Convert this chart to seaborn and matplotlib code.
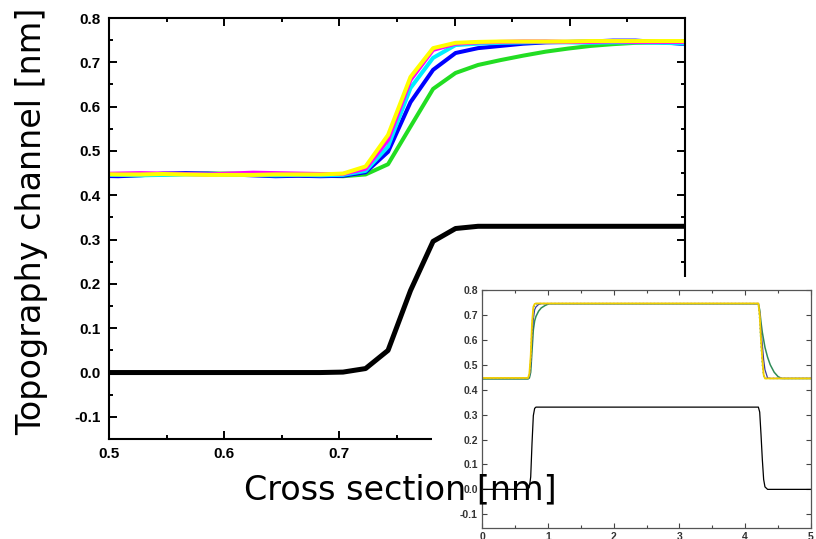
import numpy as np
import seaborn as sns
import matplotlib.pyplot as plt
from matplotlib.patches import Rectangle
from matplotlib.ticker import MultipleLocator

## Main panel data (zoom on the left step edge)
x_main = [0.4883, 0.5078, 0.5273, 0.5469, 0.5664, 0.5859, 0.6055, 0.6250, 0.6445, 0.6641,
          0.6836, 0.7031, 0.7227, 0.7422, 0.7617, 0.7813, 0.8008, 0.8203, 0.8398, 0.8594,
          0.8789, 0.8984, 0.9180, 0.9375, 0.9570, 0.9766, 0.9961, 1.0156]
black_main = [0.0, 0.0, 0.0, 0.0, 0.0, 0.0, 0.0, 0.0, 0.0, 0.0, 0.0, 0.001,
              0.009, 0.05, 0.185, 0.296, 0.325, 0.33, 0.33, 0.33, 0.33, 0.33,
              0.33, 0.33, 0.33, 0.33, 0.33, 0.33]
green_main = [0.443, 0.444, 0.446, 0.447, 0.448, 0.449, 0.449, 0.448, 0.447, 0.445, 0.444, 0.443,
              0.447, 0.47, 0.555, 0.64, 0.676, 0.694, 0.705, 0.715, 0.724, 0.731,
              0.737, 0.741, 0.744, 0.745, 0.745, 0.745]
blue_main = [0.444, 0.443, 0.445, 0.449, 0.450, 0.449, 0.447, 0.445, 0.443, 0.444, 0.443, 0.444,
             0.452, 0.498, 0.61, 0.683, 0.721, 0.732, 0.737, 0.742, 0.745, 0.746,
             0.747, 0.749, 0.749, 0.746, 0.742, 0.741]
cyan_main = [0.446, 0.446, 0.445, 0.446, 0.447, 0.447, 0.446, 0.446, 0.445, 0.446, 0.445, 0.446,
             0.455, 0.51, 0.642, 0.71, 0.739, 0.742, 0.744, 0.745, 0.746, 0.745,
             0.744, 0.745, 0.745, 0.744, 0.743, 0.743]
magenta_main = [0.448, 0.449, 0.450, 0.449, 0.448, 0.447, 0.449, 0.451, 0.450, 0.449, 0.448, 0.448,
                0.46, 0.525, 0.66, 0.728, 0.742, 0.745, 0.746, 0.747, 0.747, 0.746,
                0.746, 0.747, 0.746, 0.746, 0.746, 0.746]
yellow_main = [0.448, 0.447, 0.447, 0.448, 0.447, 0.446, 0.446, 0.446, 0.447, 0.447, 0.447, 0.449,
               0.465, 0.536, 0.667, 0.732, 0.744, 0.746, 0.747, 0.747, 0.747, 0.747,
               0.748, 0.748, 0.748, 0.748, 0.748, 0.748]

## Inset data (full cross section)
x_inset = [0.0, 0.70, 0.72, 0.74, 0.76, 0.78, 0.80, 0.82, 0.86, 0.90, 0.96, 1.02,
           4.18, 4.20, 4.22, 4.24, 4.26, 4.28, 4.30, 4.34, 4.38, 4.44, 4.50, 4.56, 5.0]
black_inset = [0.0, 0.0, 0.009, 0.05, 0.185, 0.296, 0.325, 0.33, 0.33, 0.33, 0.33, 0.33,
               0.33, 0.33, 0.31, 0.22, 0.12, 0.04, 0.01, 0.0, 0.0, 0.0, 0.0, 0.0, 0.0]
green_inset = [0.443, 0.443, 0.447, 0.47, 0.555, 0.64, 0.676, 0.694, 0.715, 0.728, 0.738, 0.745,
               0.745, 0.745, 0.72, 0.67, 0.63, 0.60, 0.57, 0.53, 0.50, 0.47, 0.452, 0.445, 0.445]
blue_inset = [0.445, 0.445, 0.452, 0.498, 0.61, 0.683, 0.721, 0.732, 0.742, 0.745, 0.745, 0.745,
              0.745, 0.745, 0.71, 0.64, 0.58, 0.52, 0.48, 0.447, 0.445, 0.445, 0.445, 0.445, 0.445]
cyan_inset = [0.446, 0.446, 0.455, 0.51, 0.642, 0.71, 0.739, 0.742, 0.745, 0.745, 0.745, 0.745,
              0.745, 0.745, 0.68, 0.58, 0.50, 0.455, 0.445, 0.445, 0.445, 0.445, 0.445, 0.445, 0.445]
magenta_inset = [0.448, 0.448, 0.46, 0.525, 0.66, 0.728, 0.742, 0.745, 0.746, 0.746, 0.746, 0.746,
                 0.746, 0.746, 0.70, 0.60, 0.52, 0.46, 0.446, 0.446, 0.446, 0.446, 0.446, 0.446, 0.446]
yellow_inset = [0.447, 0.447, 0.465, 0.536, 0.667, 0.732, 0.744, 0.746, 0.746, 0.746, 0.746, 0.746,
                0.746, 0.746, 0.70, 0.60, 0.52, 0.46, 0.445, 0.445, 0.445, 0.445, 0.445, 0.445, 0.445]

sns.set_style("ticks")
plt.rcParams['font.family'] = ['Liberation Sans', 'DejaVu Sans']
plt.rcParams['text.color'] = 'black'

fig = plt.figure(figsize=(8.16, 5.39), dpi=100)

# main axes
ax = fig.add_axes([0.1336, 0.1855, 0.7059, 0.7811])
main_series = [(green_main, '#22dd22'), (blue_main, '#0000ff'), (cyan_main, '#00eeff'),
               (magenta_main, '#ff00ff'), (yellow_main, '#ffff00')]
for vals, col in main_series:
    sns.lineplot(x=x_main, y=vals, color=col, lw=2.9, ax=ax)
sns.lineplot(x=x_main, y=black_main, color='black', lw=3.6, ax=ax)

ax.set_xlim(0.5, 1.0)
ax.set_ylim(-0.15, 0.8)
ax.xaxis.set_major_locator(MultipleLocator(0.1))
ax.xaxis.set_minor_locator(MultipleLocator(0.05))
ax.yaxis.set_major_locator(MultipleLocator(0.1))
ax.yaxis.set_minor_locator(MultipleLocator(0.05))
ax.xaxis.set_major_formatter(plt.FormatStrFormatter('%.1f'))
ax.yaxis.set_major_formatter(plt.FormatStrFormatter('%.1f'))
ax.tick_params(which='both', direction='in', top=True, right=True, width=1.4,
               colors='black', labelcolor='black')
ax.tick_params(which='major', length=6, labelsize=11, pad=6)
ax.tick_params(which='minor', length=3)
for lab in ax.get_xticklabels() + ax.get_yticklabels():
    lab.set_fontweight('bold')
for sp in ax.spines.values():
    sp.set_linewidth(1.5)
    sp.set_color('black')

# white block that the inset sits on
fig.add_artist(Rectangle((0.529, 0.0), 0.471, 0.486, transform=fig.transFigure,
                         facecolor='white', edgecolor='none', zorder=1))

# inset axes
axin = fig.add_axes([0.5907, 0.0204, 0.4032, 0.4416])
axin.set_zorder(2)
sns.lineplot(x=x_inset, y=black_inset, color='black', lw=0.9, ax=axin)
sns.lineplot(x=x_inset, y=green_inset, color='#2e8b57', lw=1.1, ax=axin)
sns.lineplot(x=x_inset, y=blue_inset, color='#3b3b9a', lw=0.9, ax=axin)
sns.lineplot(x=x_inset, y=cyan_inset, color='#20b2aa', lw=1.0, ls=':', ax=axin)
sns.lineplot(x=x_inset, y=magenta_inset, color='#ff5fa0', lw=1.0, ls=':', ax=axin)
sns.lineplot(x=x_inset, y=yellow_inset, color='#f0d000', lw=1.3, ax=axin)
axin.set_xlim(0, 5)
axin.set_ylim(-0.155, 0.8)
axin.xaxis.set_major_locator(MultipleLocator(1))
axin.xaxis.set_minor_locator(MultipleLocator(0.5))
axin.yaxis.set_major_locator(MultipleLocator(0.1))
axin.xaxis.set_major_formatter(plt.FormatStrFormatter('%d'))
axin.yaxis.set_major_formatter(plt.FormatStrFormatter('%.1f'))
axin.tick_params(which='both', direction='in', top=True, right=True, width=0.8,
                 colors='#444444', labelcolor='#333333')
axin.tick_params(which='major', length=3.5, labelsize=7.5, pad=3)
axin.tick_params(which='minor', length=2)
for lab in axin.get_xticklabels() + axin.get_yticklabels():
    lab.set_fontweight('bold')
for sp in axin.spines.values():
    sp.set_linewidth(0.9)
    sp.set_color('#555555')

# axis titles drawn on top of everything
fig.text(0.49, 0.0742, 'Cross section [nm]', ha='center', va='baseline', color='black',
         fontsize=24, family='DejaVu Sans', zorder=5)
fig.text(0.039, 0.59, 'Topography channel [nm]', ha='center', va='center', rotation=90,
         color='black', fontsize=24, family='DejaVu Sans', zorder=5)

plt.savefig('out.png', dpi=100)
